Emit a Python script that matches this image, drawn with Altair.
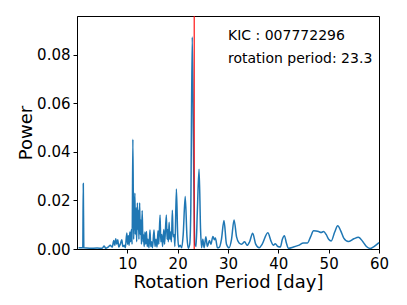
import altair as alt
import pandas as pd

# Periodogram readings (rotation period in days, power)
period = [0.3, 1.15, 1.25, 1.35, 2.5, 4.0, 5.0, 5.4, 5.7, 6.2, 6.6, 7.0, 7.3, 7.5, 7.7, 7.9,
          8.1, 8.3, 8.6, 8.9, 9.1, 9.4, 9.6, 9.9, 10.05, 10.2, 10.35, 10.5, 10.65, 10.8, 10.95,
          11.1, 11.25, 11.4, 11.5, 11.6, 11.75, 11.85, 12.0, 12.1, 12.2, 12.3, 12.45, 12.55,
          12.7, 12.8, 12.95, 13.1, 13.2, 13.35, 13.5, 13.65, 13.8, 13.95, 14.1, 14.3, 14.5,
          14.65, 14.85, 15.0, 15.3, 15.5, 15.7, 15.9, 16.1, 16.25, 16.5, 16.65, 16.85, 17.0,
          17.25, 17.4, 17.75, 17.9, 18.05, 18.15, 18.3, 18.45, 18.6, 18.75, 18.95, 19.1, 19.3,
          19.45, 19.75, 20.0, 20.2, 20.5, 20.8, 21.1, 21.5, 21.85, 22.1, 22.4, 22.6, 22.9,
          23.2, 23.4, 23.65, 23.9, 24.25, 24.55, 24.75, 25.0, 25.25, 25.6, 25.9, 26.3, 26.6,
          27.0, 27.3, 27.5, 27.9, 28.3, 28.7, 29.2, 29.7, 30.2, 30.7, 31.2, 31.7, 32.2, 32.7,
          33.3, 33.8, 34.3, 34.9, 35.5, 36.2, 36.8, 37.9, 38.6, 39.0, 39.4, 39.9, 40.4, 40.8,
          41.2, 41.6, 42.0, 43.0, 44.0, 45.0, 45.8, 46.4, 47.0, 47.5, 48.0, 48.5, 49.0, 49.5,
          50.0, 50.5, 51.2, 51.8, 52.4, 53.0, 53.9, 55.0, 55.9, 56.8, 57.5, 58.2, 59.0, 60.0]
power = [0.0005, 0.0005, 0.027, 0.0005, 0.0003, 0.0004, 0.0003, 0.0012, 0.0003, 0.0008,
         0.0015, 0.0008, 0.0035, 0.0015, 0.0042, 0.002, 0.0038, 0.0008, 0.002, 0.0038, 0.001,
         0.0015, 0.0005, 0.0066, 0.002, 0.0055, 0.0015, 0.007, 0.003, 0.008, 0.002,
         0.0452, 0.004, 0.015, 0.023, 0.006, 0.017, 0.003, 0.019, 0.008, 0.016, 0.004, 0.019,
         0.006, 0.012, 0.002, 0.0158, 0.003, 0.006, 0.001, 0.007, 0.002, 0.0072, 0.001, 0.004,
         0.0005, 0.0078, 0.001, 0.003, 0.0005, 0.0078, 0.001, 0.004, 0.0008, 0.0075, 0.002,
         0.014, 0.003, 0.006, 0.001, 0.008, 0.002, 0.014, 0.004, 0.008, 0.003, 0.011, 0.004,
         0.007, 0.003, 0.016, 0.005, 0.006, 0.001, 0.0247, 0.006, 0.0008, 0.0015, 0.0005,
         0.006, 0.0216, 0.005, 0.0003, 0.002, 0.015, 0.0873, 0.03, 0.002, 0.001, 0.015,
         0.0329, 0.008, 0.0005, 0.004, 0.0005, 0.005, 0.001, 0.0035, 0.002, 0.0052, 0.0038,
         0.0045, 0.0005, 0.0008, 0.004, 0.0117, 0.002, 0.0005, 0.004, 0.012, 0.005, 0.0025,
         0.002, 0.003, 0.0015, 0.003, 0.0065, 0.002, 0.0005, 0.002, 0.0067, 0.003, 0.0015,
         0.0022, 0.001, 0.0008, 0.004, 0.0055, 0.0025, 0.0003, 0.0008, 0.0015, 0.0025, 0.0025,
         0.005, 0.0075, 0.0074, 0.0072, 0.0068, 0.0072, 0.006, 0.004, 0.0033, 0.007, 0.0096,
         0.0075, 0.0045, 0.0031, 0.0042, 0.0048, 0.003, 0.001, 0.0002, 0.001, 0.0026]

rotation_period = [23.3]
x_ticks = [10, 20, 30, 40, 50, 60]
y_ticks = [0.0, 0.02, 0.04, 0.06, 0.08]
kic_id = "007772296"

df = pd.DataFrame({"period": period, "power": power})
rp = pd.DataFrame({"period": rotation_period})

x_scale = alt.Scale(domain=[0, 60], nice=False, zero=False)
y_scale = alt.Scale(domain=[0, 0.096], nice=False)

line = alt.Chart(df).mark_line(color="#1f77b4", strokeWidth=1.5, interpolate="monotone").encode(
    x=alt.X("period:Q", scale=x_scale,
            axis=alt.Axis(title="Rotation Period [day]", values=x_ticks, format="d",
                          labelFlush=False)),
    y=alt.Y("power:Q", scale=y_scale,
            axis=alt.Axis(title="Power", values=y_ticks, format=".2f", labelFlush=False)),
)

rule = alt.Chart(rp).mark_rule(color="#ff0000", strokeWidth=1.5, opacity=0.75).encode(
    x=alt.X("period:Q", scale=x_scale)
)

txt1 = alt.Chart(rp).mark_text(align="left", baseline="alphabetic", fontSize=14,
                               font="DejaVu Sans", color="black").encode(
    x=alt.value(151), y=alt.value(24), text=alt.value("KIC : " + kic_id)
)
txt2 = alt.Chart(rp).mark_text(align="left", baseline="alphabetic", fontSize=14,
                               font="DejaVu Sans", color="black").encode(
    x=alt.value(151), y=alt.value(47),
    text=alt.value("rotation period: " + str(rotation_period[0]))
)

chart = alt.layer(line, rule, txt1, txt2).properties(
    width=302, height=233,
    autosize=alt.AutoSizeParams(type="none"),
    padding={"left": 69, "top": 8, "right": 20, "bottom": 48},
).configure_view(
    stroke="black", strokeWidth=1
).configure_axis(
    grid=False,
    domainColor="black",
    tickColor="black",
    tickSize=4,
    labelFont="DejaVu Sans",
    labelFontSize=15,
    labelColor="black",
    labelPadding=3,
    titleFont="DejaVu Sans",
    titleFontSize=18,
    titleFontWeight="normal",
    titleColor="black",
).configure_axisX(
    titlePadding=2
).configure_axisY(
    titlePadding=1
)

chart.save("out.html", embed_options={"renderer": "svg", "actions": False})
